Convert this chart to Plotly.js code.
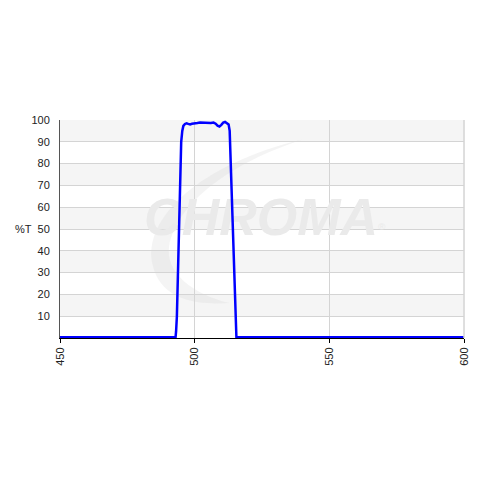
<!DOCTYPE html>
<html><head><meta charset="utf-8">
<script src="https://cdn.plot.ly/plotly-3.0.1.min.js"></script>
<style>html,body{margin:0;padding:0;background:#fff}#chart{width:480px;height:480px}</style>
</head><body><div id="chart"></div>
<script>
const wavelength = [450,460,470,480,490,492,492.9,493.1,493.4,493.8,494.2,494.7,495.0,495.4,495.8,496.4,497,497.6,498.3,499,500,501,502,503,504,505,506,507,507.8,508.5,509.2,509.9,510.6,511.3,512,512.6,513.0,513.4,513.9,514.3,514.6,515.0,515.3,515.5,516,520,530,540,550,560,570,580,590,600];
const transmission = [0.3,0.3,0.3,0.3,0.3,0.3,0.3,3,10,30,50,80,90,95,97.3,98.2,98.5,98.2,98.0,98.3,98.6,98.6,98.8,98.7,98.8,98.8,98.6,98.8,98.3,97.4,97.0,97.8,98.8,99.1,98.6,98.0,95,80,59,42,27,12,3,0.3,0.3,0.3,0.3,0.3,0.3,0.3,0.3,0.3,0.3,0.3];
const xTicks = [450,500,550,600];
const yTicks = [10,20,30,40,50,60,70,80,90,100];
const yLabel = '%T';
const watermark = 'CHROMA';

const font = {family:'"Liberation Sans", Arial, sans-serif', size:11, color:'#222'};
const shapes = [];
for (let i = 0; i < yTicks.length; i++) {
  if (i % 2 === 1) {
    shapes.push({type:'rect', xref:'paper', yref:'y', x0:0, x1:1, y0:yTicks[i]-10, y1:yTicks[i],
      fillcolor:'#f5f5f5', line:{width:0}, layer:'below'});
  }
}
// watermark swoosh
shapes.push({type:'path', xref:'paper', yref:'paper', layer:'below',
  path:'M 0.60 0.91 C 0.35 0.80, 0.20 0.55, 0.23 0.33 C 0.25 0.18, 0.33 0.15, 0.42 0.16 C 0.33 0.20, 0.26 0.30, 0.27 0.42 C 0.29 0.62, 0.42 0.80, 0.60 0.91 Z',
  fillcolor:'rgba(205,205,205,0.22)', line:{width:0}});
shapes.push({type:'rect', xref:'paper', yref:'paper', x0:1, x1:1, y0:0, y1:1, line:{color:'#d4d4d4', width:1}});

const traces = [
  {x:[526], y:[53], mode:'text', text:[watermark + '<span style="font-size:14px;font-weight:400"><sup>®</sup></span>'], hoverinfo:'skip', showlegend:false,
   textfont:{family:'"Liberation Sans", Arial, sans-serif', size:52, color:'#eaeaea', style:'italic', weight:700}},
  {x:wavelength, y:transmission, mode:'lines', line:{color:'#0000ff', width:2.5}, hoverinfo:'skip', showlegend:false}
];

const layout = {
  width:480, height:480,
  margin:{l:60, r:16, t:120, b:142},
  paper_bgcolor:'#ffffff', plot_bgcolor:'#ffffff',
  font:font,
  showlegend:false,
  xaxis:{range:[450,600], tickvals:xTicks, ticktext:xTicks.map(String), tickangle:-90,
    showgrid:true, gridcolor:'#d4d4d4', gridwidth:1, zeroline:false,
    showline:true, linecolor:'#000', linewidth:1, ticks:'outside', ticklen:4, tickcolor:'#000',
    tickfont:font, fixedrange:true},
  yaxis:{range:[0,100], tickvals:yTicks, ticktext:yTicks.map(String),
    showgrid:true, gridcolor:'#d4d4d4', gridwidth:1, zeroline:false,
    showline:true, linecolor:'#555', linewidth:1, ticks:'', ticklabelstandoff:7,
    tickfont:font, fixedrange:true},
  shapes:shapes,
  annotations:[{text:yLabel, xref:'paper', yref:'paper', x:-0.09, y:0.5, showarrow:false,
    xanchor:'center', yanchor:'middle', font:font}]
};
Plotly.newPlot('chart', traces, layout, {staticPlot:true, displayModeBar:false});
</script></body></html>
